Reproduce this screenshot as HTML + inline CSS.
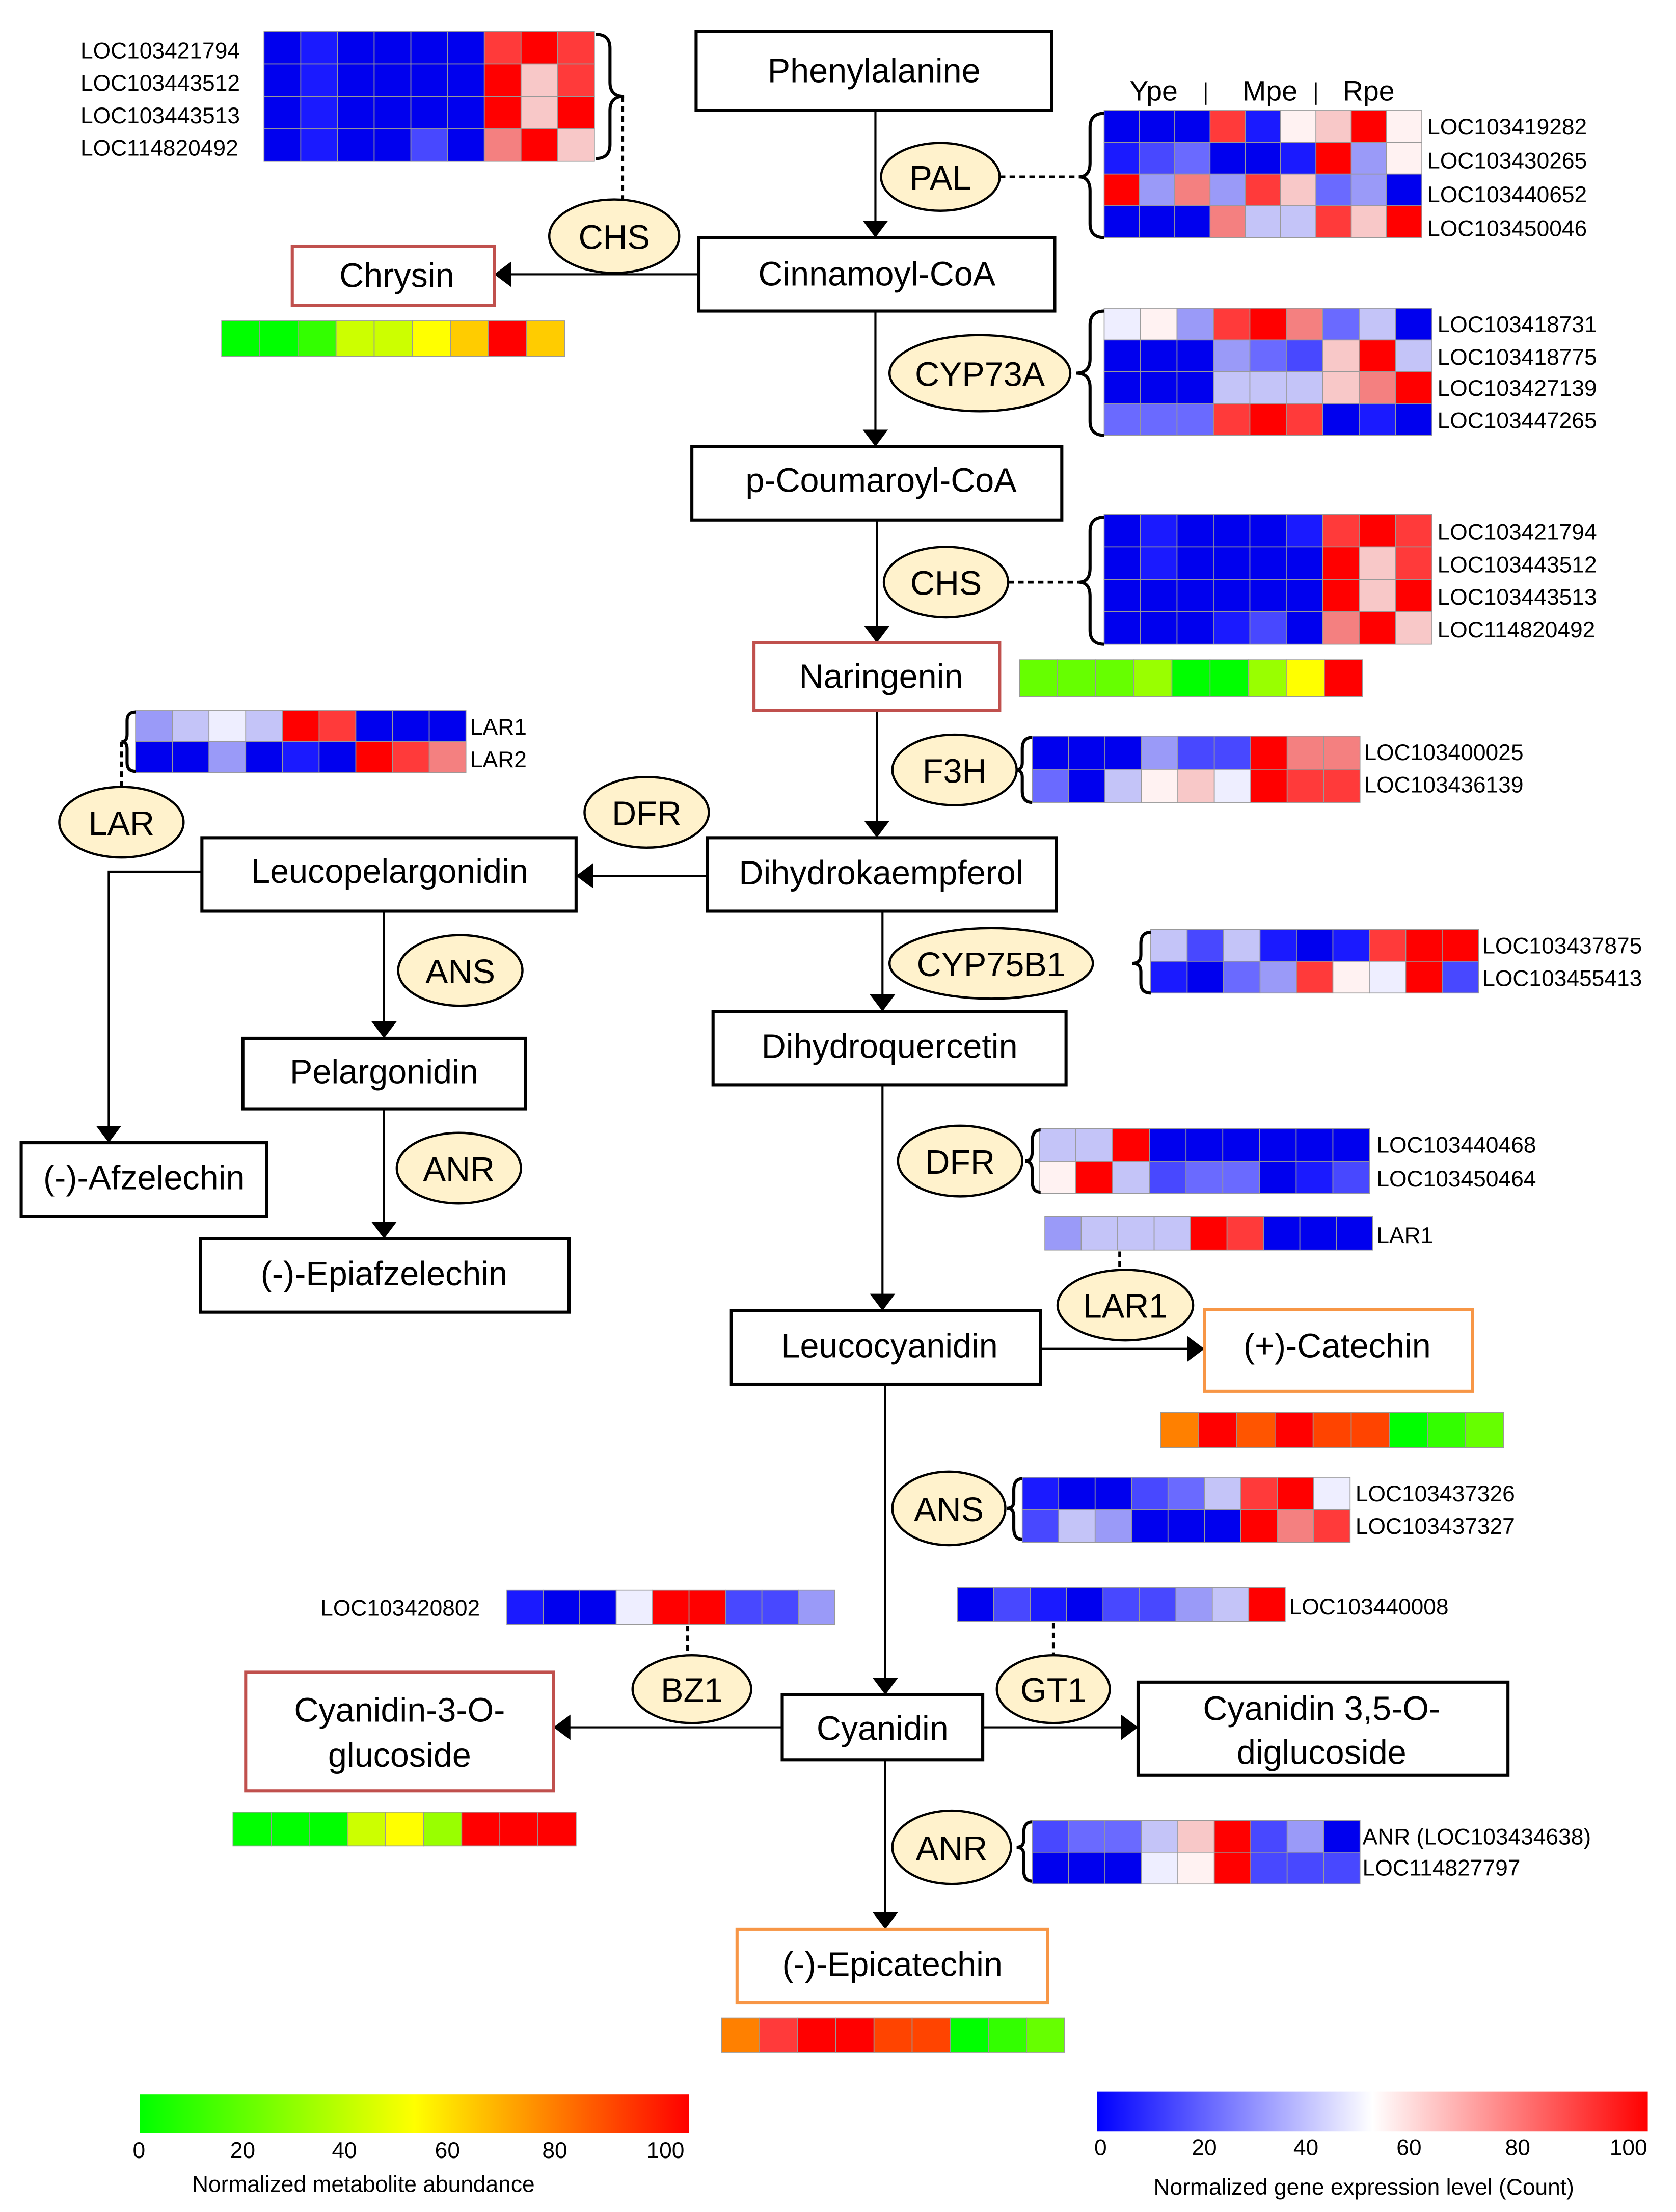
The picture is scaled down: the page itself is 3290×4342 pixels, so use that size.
<!DOCTYPE html>
<html><head><meta charset="utf-8">
<style>
html,body{margin:0;padding:0;background:#fff;}
svg{display:block;}
text{font-family:"Liberation Sans",Arial,sans-serif;fill:#000;}
.bx{fill:#fff;stroke:#000;stroke-width:2.2;}
.rb{fill:#fff;stroke:#c0504d;stroke-width:2.2;}
.ob{fill:#fff;stroke:#f79646;stroke-width:2.2;}
.el{fill:#fff2cc;stroke:#000;stroke-width:1.6;}
.t{font-size:24px;text-anchor:middle;}
.g{font-size:16px;}
.ln{stroke:#000;stroke-width:1.5;fill:none;}
.ds{stroke:#000;stroke-width:2;fill:none;stroke-dasharray:4,3;}
.br{stroke:#000;stroke-width:2.2;fill:none;}
</style></head>
<body>
<svg id="s" xmlns="http://www.w3.org/2000/svg" width="3290" height="4342" viewBox="0 0 1187 1566">
<defs>
<marker id="A" viewBox="0 0 12 18" markerWidth="12" markerHeight="18" refX="12" refY="9" orient="auto" markerUnits="userSpaceOnUse">
<path d="M0,0 L12,9 L0,18 z" fill="#000"/></marker>
<linearGradient id="mg" x1="0" x2="1"><stop offset="0" stop-color="#00ff00"/><stop offset="0.5" stop-color="#ffff00"/><stop offset="0.75" stop-color="#ff8000"/><stop offset="1" stop-color="#ff0000"/></linearGradient>
<linearGradient id="gg" x1="0" x2="1"><stop offset="0" stop-color="#0000ff"/><stop offset="0.5" stop-color="#ffffff"/><stop offset="1" stop-color="#ff0000"/></linearGradient>
</defs>
<g id="cells"></g>

<line class="ln" x1="620" y1="78" x2="620" y2="168" marker-end="url(#A)"/>
<line class="ln" x1="620" y1="220" x2="620" y2="316" marker-end="url(#A)"/>
<line class="ln" x1="621" y1="368" x2="621" y2="455" marker-end="url(#A)"/>
<line class="ln" x1="621" y1="503" x2="621" y2="593" marker-end="url(#A)"/>
<line class="ln" x1="625" y1="645" x2="625" y2="716" marker-end="url(#A)"/>
<line class="ln" x1="625" y1="768" x2="625" y2="928" marker-end="url(#A)"/>
<line class="ln" x1="627" y1="980" x2="627" y2="1200" marker-end="url(#A)"/>
<line class="ln" x1="627" y1="1246" x2="627" y2="1366" marker-end="url(#A)"/>
<line class="ln" x1="495" y1="194" x2="350" y2="194" marker-end="url(#A)"/>
<line class="ln" x1="501" y1="620" x2="408" y2="620" marker-end="url(#A)"/>
<line class="ln" x1="737" y1="955" x2="853" y2="955" marker-end="url(#A)"/>
<line class="ln" x1="554" y1="1223" x2="392" y2="1223" marker-end="url(#A)"/>
<line class="ln" x1="696" y1="1223" x2="806" y2="1223" marker-end="url(#A)"/>
<polyline class="ln" points="143,617 77,617 77,809" marker-end="url(#A)"/>
<line class="ln" x1="272" y1="645" x2="272" y2="735" marker-end="url(#A)"/>
<line class="ln" x1="272" y1="785" x2="272" y2="877" marker-end="url(#A)"/>

<line class="ds" x1="441" y1="68" x2="441" y2="146"/>
<line class="ds" x1="708" y1="125" x2="764" y2="125"/>
<line class="ds" x1="714" y1="412" x2="764" y2="412"/>
<line class="ds" x1="86" y1="525" x2="86" y2="561"/>
<line class="ds" x1="793" y1="886" x2="793" y2="903"/>
<line class="ds" x1="487" y1="1151" x2="487" y2="1175"/>
<line class="ds" x1="746" y1="1149" x2="746" y2="1175"/>

<path class="br" d="M422,24 Q432,24 432,34 L432,58 Q432,68 442,68 Q432,68 432,78 L432,102 Q432,112 422,112"/>
<path class="br" d="M782,80 Q772,80 772,90 L772,115 Q772,125 764,125 Q772,125 772,135 L772,158 Q772,168 782,168"/>
<path class="br" d="M782,220 Q772,220 772,230 L772,254 Q772,264 762,264 Q772,264 772,274 L772,298 Q772,308 782,308"/>
<path class="br" d="M782,366 Q772,366 772,376 L772,402 Q772,412 764,412 Q772,412 772,422 L772,446 Q772,456 782,456"/>
<path class="br" d="M731,522 Q724,522 724,530 L724,540 Q724,545 719,545 Q724,545 724,550 L724,560 Q724,568 731,568"/>
<path class="br" d="M96,504 Q90,504 90,510 L90,520 Q90,525 86,525 Q90,525 90,530 L90,540 Q90,546 96,546"/>
<path class="br" d="M815,660 Q808,660 808,668 L808,676 Q808,682 802,682 Q808,682 808,688 L808,696 Q808,703 815,703"/>
<path class="br" d="M737,800 Q731,800 731,808 L731,816 Q731,822 726,822 Q731,822 731,828 L731,836 Q731,844 737,844"/>
<path class="br" d="M724,1047 Q718,1047 718,1055 L718,1063 Q718,1068 713,1068 Q718,1068 718,1073 L718,1082 Q718,1090 724,1090"/>
<path class="br" d="M731,1290 Q725,1290 725,1298 L725,1303 Q725,1308 720,1308 Q725,1308 725,1313 L725,1324 Q725,1332 731,1332"/>

<rect class="bx" x="493" y="22" width="252" height="56"/><text class="t" x="619" y="58">Phenylalanine</text>
<rect class="bx" x="495" y="168" width="252" height="52"/><text class="t" x="621" y="202">Cinnamoyl-CoA</text>
<rect class="rb" x="207" y="174" width="143" height="42"/><text class="t" x="281" y="203">Chrysin</text>
<rect class="bx" x="490" y="316" width="262" height="52"/><text class="t" x="624" y="348">p-Coumaroyl-CoA</text>
<rect class="rb" x="534" y="455" width="174" height="48"/><text class="t" x="624" y="487">Naringenin</text>
<rect class="bx" x="143" y="593" width="265" height="52"/><text class="t" x="276" y="625">Leucopelargonidin</text>
<rect class="bx" x="501" y="593" width="247" height="52"/><text class="t" x="624" y="626">Dihydrokaempferol</text>
<rect class="bx" x="172" y="735" width="200" height="50"/><text class="t" x="272" y="767">Pelargonidin</text>
<rect class="bx" x="15" y="809" width="174" height="52"/><text class="t" x="102" y="842">(-)-Afzelechin</text>
<rect class="bx" x="142" y="877" width="261" height="52"/><text class="t" x="272" y="910">(-)-Epiafzelechin</text>
<rect class="bx" x="505" y="716" width="250" height="52"/><text class="t" x="630" y="749">Dihydroquercetin</text>
<rect class="bx" x="518" y="928" width="219" height="52"/><text class="t" x="630" y="961">Leucocyanidin</text>
<rect class="ob" x="853" y="927" width="190" height="58"/><text class="t" x="947" y="961">(+)-Catechin</text>
<rect class="rb" x="174" y="1184" width="218" height="84"/><text class="t" x="283" y="1219">Cyanidin-3-O-</text><text class="t" x="283" y="1251">glucoside</text>
<rect class="bx" x="554" y="1200" width="142" height="46"/><text class="t" x="625" y="1232">Cyanidin</text>
<rect class="bx" x="806" y="1191" width="262" height="66"/><text class="t" x="936" y="1218">Cyanidin 3,5-O-</text><text class="t" x="936" y="1249">diglucoside</text>
<rect class="ob" x="522" y="1366" width="220" height="52"/><text class="t" x="632" y="1399">(-)-Epicatechin</text>

<ellipse class="el" cx="666" cy="125" rx="42" ry="24"/><text class="t" x="666" y="134">PAL</text>
<ellipse class="el" cx="435" cy="167" rx="46" ry="26"/><text class="t" x="435" y="176">CHS</text>
<ellipse class="el" cx="694" cy="264" rx="64" ry="27"/><text class="t" x="694" y="273">CYP73A</text>
<ellipse class="el" cx="670" cy="412" rx="44" ry="25"/><text class="t" x="670" y="421">CHS</text>
<ellipse class="el" cx="676" cy="545" rx="44" ry="25"/><text class="t" x="676" y="554">F3H</text>
<ellipse class="el" cx="458" cy="575" rx="44" ry="25"/><text class="t" x="458" y="584">DFR</text>
<ellipse class="el" cx="86" cy="582" rx="44" ry="25"/><text class="t" x="86" y="591">LAR</text>
<ellipse class="el" cx="326" cy="687" rx="44" ry="25"/><text class="t" x="326" y="696">ANS</text>
<ellipse class="el" cx="702" cy="682" rx="72" ry="25"/><text class="t" x="702" y="691">CYP75B1</text>
<ellipse class="el" cx="325" cy="827" rx="44" ry="25"/><text class="t" x="325" y="836">ANR</text>
<ellipse class="el" cx="680" cy="822" rx="44" ry="25"/><text class="t" x="680" y="831">DFR</text>
<ellipse class="el" cx="797" cy="924" rx="48" ry="25"/><text class="t" x="797" y="933">LAR1</text>
<ellipse class="el" cx="672" cy="1068" rx="40" ry="26"/><text class="t" x="672" y="1077">ANS</text>
<ellipse class="el" cx="490" cy="1196" rx="42" ry="24"/><text class="t" x="490" y="1205">BZ1</text>
<ellipse class="el" cx="746" cy="1196" rx="40" ry="24"/><text class="t" x="746" y="1205">GT1</text>
<ellipse class="el" cx="674" cy="1308" rx="42" ry="26"/><text class="t" x="674" y="1317">ANR</text>

<g class="g">
<text class="g" x="57" y="41">LOC103421794</text>
<text class="g" x="57" y="64">LOC103443512</text>
<text class="g" x="57" y="87">LOC103443513</text>
<text class="g" x="57" y="110">LOC114820492</text>
<text x="800" y="71" style="font-size:20px">Ype</text>
<text x="880" y="71" style="font-size:20px">Mpe</text>
<text x="951" y="71" style="font-size:20px">Rpe</text>
<line x1="854" y1="58" x2="854" y2="74" stroke="#000" stroke-width="1"/>
<line x1="932" y1="58" x2="932" y2="74" stroke="#000" stroke-width="1"/>
<text class="g" x="1011" y="95">LOC103419282</text>
<text class="g" x="1011" y="119">LOC103430265</text>
<text class="g" x="1011" y="143">LOC103440652</text>
<text class="g" x="1011" y="167">LOC103450046</text>
<text class="g" x="1018" y="235">LOC103418731</text>
<text class="g" x="1018" y="258">LOC103418775</text>
<text class="g" x="1018" y="280">LOC103427139</text>
<text class="g" x="1018" y="303">LOC103447265</text>
<text class="g" x="1018" y="382">LOC103421794</text>
<text class="g" x="1018" y="405">LOC103443512</text>
<text class="g" x="1018" y="428">LOC103443513</text>
<text class="g" x="1018" y="451">LOC114820492</text>
<text class="g" x="333" y="520">LAR1</text>
<text class="g" x="333" y="543">LAR2</text>
<text class="g" x="966" y="538">LOC103400025</text>
<text class="g" x="966" y="561">LOC103436139</text>
<text class="g" x="1050" y="675">LOC103437875</text>
<text class="g" x="1050" y="698">LOC103455413</text>
<text class="g" x="975" y="816">LOC103440468</text>
<text class="g" x="975" y="840">LOC103450464</text>
<text class="g" x="975" y="880">LAR1</text>
<text class="g" x="960" y="1063">LOC103437326</text>
<text class="g" x="960" y="1086">LOC103437327</text>
<text class="g" x="227" y="1144">LOC103420802</text>
<text class="g" x="913" y="1143">LOC103440008</text>
<text class="g" x="965" y="1306">ANR (LOC103434638)</text>
<text class="g" x="965" y="1328">LOC114827797</text>
</g>

<rect x="99" y="1483" width="389" height="27" fill="url(#mg)"/>
<rect x="777" y="1481" width="390" height="28" fill="url(#gg)"/>
<g class="g">
<text class="g" x="94" y="1528">0</text><text class="g" x="163" y="1528">20</text><text class="g" x="235" y="1528">40</text><text class="g" x="308" y="1528">60</text><text class="g" x="384" y="1528">80</text><text class="g" x="458" y="1528">100</text>
<text class="g" x="136" y="1552">Normalized metabolite abundance</text>
<text class="g" x="775" y="1526">0</text><text class="g" x="844" y="1526">20</text><text class="g" x="916" y="1526">40</text><text class="g" x="989" y="1526">60</text><text class="g" x="1066" y="1526">80</text><text class="g" x="1140" y="1526">100</text>
<text class="g" x="817" y="1554">Normalized gene expression level (Count)</text>
</g>
</svg>
<script>
var C={B:"#0000ee",c:"#1a1aff",b:"#4848ff",m:"#6a6aff",l:"#9a9af8",L:"#c4c4f8",w:"#eeeeff",W:"#fff2f2",p:"#f8c8c8",P:"#f48080",r:"#ff3a3a",R:"#ff0000",
g:"#00ff00",G:"#33ff00",h:"#66ff00",k:"#99ff00",y:"#ccff00",Y:"#ffff00",o:"#ffcc00",O:"#ff8000",e:"#ff4400",f:"#ff5500"};
function hm(x,y,w,h,rows){var g=document.getElementById("cells"),s="";
rows.forEach(function(r,i){for(var j=0;j<r.length;j++){s+='<rect x="'+(x+j*w)+'" y="'+(y+i*h)+'" width="'+w+'" height="'+h+'" fill="'+C[r[j]]+'" stroke="#999" stroke-width="0.6"/>';}});
g.insertAdjacentHTML("beforeend",s);}
hm(187,22,26,23,["BcBBBBrRr","BcBBBBRpr","BcBBBBRpR","BcBBbBPRp"]);
hm(782,78,25,22.5,["BBBrcWpRW","cbmBBcRlW","RlPlrpmlB","BBBPLLrpR"]);
hm(782,218,25.8,22.5,["wWlrRPmLB","BBBlmbpRL","BBBLLLpPR","mmmrRrBcB"]);
hm(782,364,25.8,23,["BcBBBcrRr","BcBBBBRpr","BBBBBBRpR","BBBcbBPRp"]);
hm(722,467,27,26,["hhhkggkYR"]);
hm(157,227,27,25,["ggGyyYoRo"]);
hm(731,521,25.8,23.5,["BBBlbbRPP","mBLWpwRrr"]);
hm(96,503,26,22,["lLwLRrBBB","BBlBcBRrP"]);
hm(815,658,25.8,22.5,["LbLcBcrRR","cBmlrWwRb"]);
hm(736,799,26,23,["LLRBBBBBB","WRLbmmBcb"]);
hm(740,861,25.8,24,["lLLLRrBBB"]);
hm(822,1000,27,25,["ORfReegGh"]);
hm(724,1046,25.8,23,["cBBbmLrRw","bLlBBBRPr"]);
hm(359,1126,25.8,24,["cBBwRRbbl"]);
hm(678,1124,25.8,24,["BbcBbblLR"]);
hm(165,1283,27,24,["gggyYkRRR"]);
hm(731,1289,25.8,22.5,["bmmLpRblB","BBBwWRbbb"]);
hm(511,1429,27,24,["OrRReegGh"]);
</script>
</body></html>
